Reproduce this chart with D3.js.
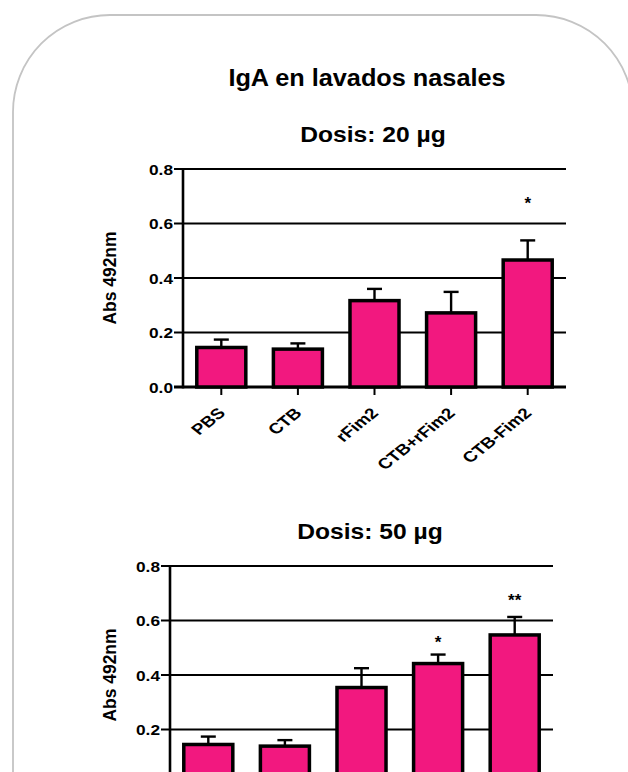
<!DOCTYPE html>
<html>
<head>
<meta charset="utf-8">
<script src="https://cdn.jsdelivr.net/npm/d3@7/dist/d3.min.js"></script>
<style>
  html, body { margin: 0; padding: 0; background: #fff; }
  svg { display: block; }
</style>
</head>
<body>
<svg id="fig" width="628" height="772"></svg>
<script>
// IgA in nasal washes, two immunisation doses
const categories = ["PBS", "CTB", "rFim2", "CTB+rFim2", "CTB-Fim2"];
const yTicks = [0.0, 0.2, 0.4, 0.6, 0.8];

const dose20Mean = [0.145, 0.139, 0.317, 0.272, 0.466];
const dose20Err  = [0.029, 0.021, 0.043, 0.077, 0.072];
const dose20Sig      = ["", "", "", "", "*"];
const dose20SigLevel = [null, null, null, null, 0.686];

const dose50Mean = [0.145, 0.139, 0.354, 0.442, 0.547];
const dose50Err  = [0.029, 0.022, 0.071, 0.033, 0.066];
const dose50Sig      = ["", "", "", "*", "**"];
const dose50SigLevel = [null, null, null, 0.532, 0.686];

const mainTitle = "IgA en lavados nasales";
const yLabel = "Abs 492nm";

const W = 628, H = 772;
const svg = d3.select("#fig");
const SANS = "'Liberation Sans', Arial, sans-serif";
const BAR_FILL = "#f2187f";

// rounded card behind the figure
svg.append("rect")
  .attr("x", 13).attr("y", 15)
  .attr("width", 620).attr("height", 1000)
  .attr("rx", 97).attr("ry", 97)
  .attr("fill", "#fff")
  .attr("stroke", "#c4c4c4")
  .attr("stroke-width", 1.8);

// text helper with a horizontal stretch
function stretchedText(g, x, y, str, opts) {
  const t = g.append("text")
    .attr("transform", `translate(${x},${y}) scale(${opts.sx || 1},1)` + (opts.rotate ? ` rotate(${opts.rotate})` : ""))
    .attr("text-anchor", opts.anchor || "middle")
    .attr("font-family", opts.family || SANS)
    .attr("font-weight", opts.weight || "bold")
    .attr("font-size", opts.size)
    .attr("fill", "#000")
    .text(str);
  if (opts.length) t.attr("textLength", opts.length).attr("lengthAdjust", "spacingAndGlyphs");
  return t;
}

stretchedText(svg, 367, 86, mainTitle, { size: 23, sx: 1.1 });

function drawPanel(p) {
  const g = svg.append("g");
  const x = d3.scaleBand().domain(categories)
    .range([p.left, p.right]).paddingInner(0.36).paddingOuter(0.18);
  const y = d3.scaleLinear().domain([0, 0.8]).range([p.bottom, p.top]);
  const visible = yy => yy - 12 < H;   // labels below the page edge are skipped

  stretchedText(g, p.titleX, p.titleY, p.title, { size: 22, sx: 1.12 });

  // horizontal grid lines, extended left as ticks
  g.selectAll("line.grid").data(yTicks).join("line")
    .attr("x1", p.left - 9).attr("x2", p.right)
    .attr("y1", d => y(d)).attr("y2", d => y(d))
    .attr("stroke", "#000")
    .attr("stroke-width", d => d === 0 ? 2.8 : 1.8);

  // y tick labels
  yTicks.forEach(d => {
    if (!visible(y(d) + 5)) return;
    stretchedText(g, p.left - 10, y(d) + 5.5, d3.format(".1f")(d),
      { size: 15, sx: 1.15, anchor: "end" });
  });

  // y axis line
  g.append("line")
    .attr("x1", p.left).attr("x2", p.left)
    .attr("y1", y(0.8) - 1).attr("y2", y(0) + 1.4)
    .attr("stroke", "#000").attr("stroke-width", 2.6);

  // y axis title
  stretchedText(g, 116, (p.top + p.bottom) / 2, yLabel,
    { size: 19, rotate: -90, length: 93 });

  // error bars (upper half only)
  const bw = x.bandwidth();
  categories.forEach((c, i) => {
    const cx = x(c) + bw / 2;
    const top = p.mean[i] + p.err[i];
    g.append("line")
      .attr("x1", cx).attr("x2", cx)
      .attr("y1", y(p.mean[i])).attr("y2", y(top))
      .attr("stroke", "#000").attr("stroke-width", 2.4);
    g.append("line")
      .attr("x1", cx - 7.5).attr("x2", cx + 7.5)
      .attr("y1", y(top)).attr("y2", y(top))
      .attr("stroke", "#000").attr("stroke-width", 2.4);
  });

  // bars
  g.selectAll("rect.bar").data(categories).join("rect")
    .attr("x", c => x(c))
    .attr("width", bw)
    .attr("y", (c, i) => y(p.mean[i]))
    .attr("height", (c, i) => y(0) - y(p.mean[i]))
    .attr("fill", BAR_FILL)
    .attr("stroke", "#000")
    .attr("stroke-width", 3.5);

  // x ticks
  g.selectAll("line.xt").data(categories).join("line")
    .attr("x1", c => x(c) + bw / 2).attr("x2", c => x(c) + bw / 2)
    .attr("y1", y(0)).attr("y2", y(0) + 8)
    .attr("stroke", "#000").attr("stroke-width", 2);

  // rotated category labels
  categories.forEach(c => {
    if (!visible(y(0) + 20)) return;
    stretchedText(g, x(c) + bw / 2 + 5, y(0) + 27, c,
      { size: 15, sx: 1.25, anchor: "end", rotate: -45 });
  });

  // significance marks
  categories.forEach((c, i) => {
    if (!p.sig[i]) return;
    stretchedText(g, x(c) + bw / 2, y(p.sigLevel[i]) + 9, p.sig[i],
      { size: 17, sx: 1 });
  });
}

drawPanel({
  left: 183, right: 566, top: 169, bottom: 387,
  title: "Dosis: 20 µg", titleX: 373, titleY: 142,
  mean: dose20Mean, err: dose20Err, sig: dose20Sig, sigLevel: dose20SigLevel
});

drawPanel({
  left: 170, right: 553, top: 566, bottom: 784,
  title: "Dosis: 50 µg", titleX: 370, titleY: 539,
  mean: dose50Mean, err: dose50Err, sig: dose50Sig, sigLevel: dose50SigLevel
});
</script>
</body>
</html>
